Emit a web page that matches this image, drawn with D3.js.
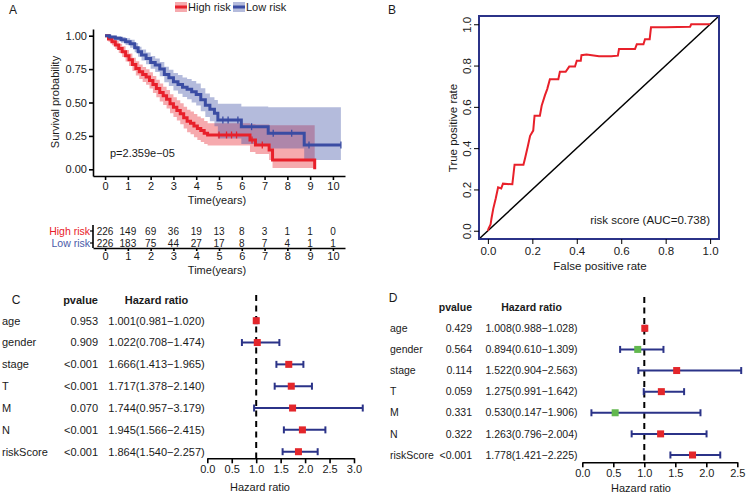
<!DOCTYPE html>
<html>
<head>
<meta charset="utf-8">
<script src="https://cdn.jsdelivr.net/npm/d3@7"></script>
<style>
  body { margin: 0; background: #fff; }
  svg text { fill: #1a1a1a; }
</style>
</head>
<body>
<div id="chart"></div>
<script>
// ---------- data ----------
// panel A: Kaplan-Meier steps (time in years, survival, CI upper, CI lower)
const highTime  = [0, 0.15, 0.3, 0.45, 0.6, 0.75, 0.9, 1.05, 1.2, 1.35, 1.5, 1.65, 1.8, 1.95, 2.1, 2.25, 2.4, 2.55, 2.7, 2.85, 3.0, 3.15, 3.3, 3.45, 3.6, 3.75, 3.9, 4.05, 4.2, 4.35, 4.5, 6.36, 6.6, 7.2, 7.35, 9.2];
const highSurv  = [1, 0.975, 0.955, 0.93, 0.905, 0.88, 0.85, 0.82, 0.785, 0.755, 0.73, 0.71, 0.69, 0.665, 0.635, 0.605, 0.575, 0.55, 0.525, 0.49, 0.465, 0.44, 0.415, 0.385, 0.36, 0.345, 0.325, 0.305, 0.29, 0.27, 0.257, 0.219, 0.182, 0.144, 0.07, 0];
const highUpper = [1, 0.995, 0.985, 0.96, 0.94, 0.92, 0.893, 0.866, 0.835, 0.808, 0.785, 0.766, 0.748, 0.726, 0.698, 0.67, 0.642, 0.618, 0.594, 0.562, 0.54, 0.517, 0.494, 0.468, 0.445, 0.432, 0.414, 0.396, 0.382, 0.362, 0.345, 0.34, 0.335, 0.33, 0.33, 0.33];
const highLower = [1, 0.955, 0.928, 0.9, 0.87, 0.84, 0.807, 0.774, 0.735, 0.702, 0.675, 0.654, 0.632, 0.604, 0.572, 0.54, 0.508, 0.482, 0.456, 0.42, 0.392, 0.365, 0.338, 0.305, 0.278, 0.262, 0.24, 0.22, 0.205, 0.19, 0.178, 0.13, 0.115, 0.07, 0.01, 0.01];
const highEnd = 9.2;
const highCensor = [5.0, 5.33, 5.55, 5.77, 6.45, 6.9];

const lowTime  = [0, 0.2, 0.45, 0.7, 0.9, 1.1, 1.3, 1.45, 1.6, 1.8, 2.0, 2.2, 2.4, 2.6, 2.8, 3.0, 3.2, 3.4, 3.6, 3.8, 4.0, 4.2, 4.4, 4.6, 4.8, 4.95, 5.98, 7.16, 8.74];
const lowSurv  = [1, 0.99, 0.98, 0.97, 0.955, 0.94, 0.91, 0.88, 0.855, 0.83, 0.8, 0.78, 0.75, 0.71, 0.685, 0.655, 0.635, 0.615, 0.6, 0.58, 0.56, 0.52, 0.48, 0.45, 0.42, 0.369, 0.319, 0.27, 0.182];
const lowUpper = [1, 1, 0.995, 0.99, 0.98, 0.97, 0.945, 0.918, 0.896, 0.874, 0.848, 0.83, 0.804, 0.768, 0.746, 0.72, 0.705, 0.688, 0.676, 0.66, 0.643, 0.606, 0.568, 0.54, 0.518, 0.49, 0.47, 0.465, 0.465];
const lowLower = [1, 0.978, 0.963, 0.948, 0.93, 0.91, 0.876, 0.842, 0.814, 0.786, 0.752, 0.728, 0.696, 0.652, 0.624, 0.59, 0.565, 0.542, 0.524, 0.5, 0.477, 0.434, 0.392, 0.36, 0.322, 0.23, 0.19, 0.155, 0.07];
const lowEnd = 10.35;
const lowCensor = [5.17, 5.4, 5.83, 6.43, 7.38, 8.19, 8.95, 10.35];

const kmTicks = [0, 0.25, 0.5, 0.75, 1];
const years = [0, 1, 2, 3, 4, 5, 6, 7, 8, 9, 10];
const highAtRisk = [226, 149, 69, 36, 19, 13, 8, 3, 1, 1, 0];
const lowAtRisk  = [226, 183, 75, 44, 27, 17, 8, 7, 4, 1, 1];
const pText = "p=2.359e\u221205";

// panel B: ROC
const rocFpr = [0, 0.003, 0.012, 0.016, 0.024, 0.035, 0.046, 0.06, 0.068, 0.11, 0.12, 0.16, 0.167, 0.18, 0.19, 0.204, 0.21, 0.234, 0.242, 0.257, 0.267, 0.279, 0.317, 0.324, 0.35, 0.366, 0.392, 0.4, 0.418, 0.421, 0.444, 0.5, 0.555, 0.585, 0.59, 0.662, 0.67, 0.7, 0.707, 0.728, 0.734, 0.8, 0.91, 0.915, 1];
const rocTpr = [0, 0.01, 0.03, 0.058, 0.106, 0.155, 0.21, 0.205, 0.228, 0.225, 0.32, 0.32, 0.35, 0.41, 0.46, 0.485, 0.557, 0.557, 0.605, 0.657, 0.686, 0.734, 0.734, 0.77, 0.77, 0.795, 0.795, 0.823, 0.823, 0.85, 0.853, 0.845, 0.845, 0.848, 0.88, 0.88, 0.903, 0.903, 0.928, 0.928, 0.985, 0.985, 0.988, 1, 1];
const rocTicks = [0, 0.2, 0.4, 0.6, 0.8, 1];
const aucText = "risk score (AUC=0.738)";

// panels C and D: forest plots
const forestVars = ["age", "gender", "stage", "T", "M", "N", "riskScore"];
const uniP    = ["0.953", "0.909", "<0.001", "<0.001", "0.070", "<0.001", "<0.001"];
const uniHR   = [1.001, 1.022, 1.666, 1.717, 1.744, 1.945, 1.864];
const uniLow  = [0.981, 0.708, 1.413, 1.378, 0.957, 1.566, 1.540];
const uniHigh = [1.020, 1.474, 1.965, 2.140, 3.179, 2.415, 2.257];
const multiP    = ["0.429", "0.564", "0.114", "0.059", "0.331", "0.322", "<0.001"];
const multiHR   = [1.008, 0.894, 1.522, 1.275, 0.530, 1.263, 1.778];
const multiLow  = [0.988, 0.610, 0.904, 0.991, 0.147, 0.796, 1.421];
const multiHigh = [1.028, 1.309, 2.563, 1.642, 1.906, 2.004, 2.225];

// ---------- drawing ----------
const FONT = "'Liberation Sans', Arial, Helvetica, sans-serif";
const RED = "#e8202a", BLUE = "#3a4ca3", NAVY = "#2b3388";

const svg = d3.select("#chart").append("svg")
    .attr("width", 747).attr("height", 494)
    .attr("font-family", FONT).attr("font-size", 11);

function styleAxis(g) {
  g.attr("font-family", FONT).attr("font-size", 11);
  g.selectAll("text").attr("fill", "#1a1a1a");
}

function label(x, y, txt, opts = {}) {
  const t = svg.append("text").attr("x", x).attr("y", y).attr("dy", "0.35em")
      .attr("text-anchor", opts.anchor || "middle").text(txt);
  if (opts.size) t.attr("font-size", opts.size);
  if (opts.bold) t.attr("font-weight", "bold");
  if (opts.fill) t.style("fill", opts.fill);
  if (opts.rotate) t.attr("transform", `rotate(-90,${x},${y})`);
  return t;
}

// panel letters
label(13, 10, "A", { size: 12 });
label(392, 10, "B", { size: 12 });
label(16, 300, "C", { size: 12 });
label(393, 298, "D", { size: 12 });

// ===== Panel A: survival curves =====
const kmX = d3.scaleLinear().domain([-0.53, 10.53]).range([93, 345]);
const kmY = d3.scaleLinear().domain([-0.05, 1.05]).range([176, 29]);

function kmPoints(time, surv, upper, lower, end) {
  const pts = time.map((t, i) => ({ t, s: surv[i], u: upper[i], l: lower[i] }));
  const last = pts[pts.length - 1];
  if (end > last.t) pts.push({ t: end, s: last.s, u: last.u, l: last.l });
  return pts;
}
const groups = [
  { pts: kmPoints(highTime, highSurv, highUpper, highLower, highEnd), time: highTime, surv: highSurv, censor: highCensor, color: RED },
  { pts: kmPoints(lowTime, lowSurv, lowUpper, lowLower, lowEnd), time: lowTime, surv: lowSurv, censor: lowCensor, color: BLUE }
];

const band = d3.area().curve(d3.curveStepAfter)
    .x(d => kmX(d.t)).y0(d => kmY(d.l)).y1(d => kmY(d.u));
const step = d3.line().curve(d3.curveStepAfter)
    .x(d => kmX(d.t)).y(d => kmY(d.s));

groups.forEach(g => {
  svg.append("path").attr("d", band(g.pts)).attr("fill", g.color).attr("fill-opacity", 0.38);
});
groups.forEach(g => {
  svg.append("path").attr("d", step(g.pts)).attr("fill", "none")
      .attr("stroke", g.color).attr("stroke-width", 3);
  g.censor.forEach(c => {
    const s = g.surv[d3.bisectRight(g.time, c) - 1];
    svg.append("line").attr("x1", kmX(c)).attr("x2", kmX(c))
        .attr("y1", kmY(s) - 3.5).attr("y2", kmY(s) + 3.5)
        .attr("stroke", g.color).attr("stroke-width", 1.3);
  });
});

svg.append("g").attr("transform", "translate(93,0)")
    .call(d3.axisLeft(kmY).tickValues(kmTicks).tickFormat(d3.format(".2f")).tickSize(4).tickSizeOuter(0).tickPadding(2))
    .call(styleAxis)
    .call(g => g.selectAll("path,line").attr("stroke", "#000").attr("stroke-width", 1.6));
svg.append("g").attr("transform", "translate(0,176)")
    .call(d3.axisBottom(kmX).tickValues(years).tickSize(4).tickSizeOuter(0).tickPadding(2))
    .call(styleAxis)
    .call(g => g.selectAll("path,line").attr("stroke", "#000").attr("stroke-width", 1.6));
label(217, 200, "Time(years)");
label(55, 102, "Survival probability", { rotate: true });
label(110, 153, pText, { anchor: "start" });

// legend
[["High risk", RED, 175], ["Low risk", BLUE, 233]].forEach(([name, col, x0]) => {
  svg.append("rect").attr("x", x0).attr("y", 2).attr("width", 12).attr("height", 10)
      .attr("fill", col).attr("fill-opacity", 0.38);
  svg.append("line").attr("x1", x0).attr("x2", x0 + 12).attr("y1", 7).attr("y2", 7)
      .attr("stroke", col).attr("stroke-width", 3);
  label(x0 + 13, 7, name, { anchor: "start" });
});

// risk table
const riskRows = [{ name: "High risk", vals: highAtRisk, y: 231, color: RED },
                  { name: "Low risk", vals: lowAtRisk, y: 243, color: "#4a5aa8" }];
riskRows.forEach(r => {
  label(90, r.y, r.name, { anchor: "end", fill: r.color, size: 10.5 });
  r.vals.forEach((v, i) => label(kmX(years[i]), r.y, v, { size: 10 }));
  svg.append("line").attr("x1", 90).attr("x2", 93).attr("y1", r.y).attr("y2", r.y)
      .attr("stroke", "#000").attr("stroke-width", 1.2);
});
svg.append("line").attr("x1", 93).attr("x2", 93).attr("y1", 225).attr("y2", 248)
    .attr("stroke", "#000").attr("stroke-width", 1.6);
svg.append("g").attr("transform", "translate(0,248)")
    .call(d3.axisBottom(kmX).tickValues(years).tickSize(3).tickSizeOuter(0).tickPadding(1))
    .call(styleAxis)
    .call(g => g.selectAll("path,line").attr("stroke", "#000").attr("stroke-width", 1.6));
label(217, 270, "Time(years)");

// ===== Panel B: ROC =====
const rocX = d3.scaleLinear().domain([-0.04, 1.04]).range([479, 719]);
const rocY = d3.scaleLinear().domain([-0.04, 1.04]).range([239, 16]);

svg.append("line").attr("x1", rocX(-0.04)).attr("y1", rocY(-0.04))
    .attr("x2", rocX(1.04)).attr("y2", rocY(1.04))
    .attr("stroke", "#000").attr("stroke-width", 1.5);
svg.append("path")
    .attr("d", d3.line().x(d => rocX(d[0])).y(d => rocY(d[1]))(rocFpr.map((f, i) => [f, rocTpr[i]])))
    .attr("fill", "none").attr("stroke", RED).attr("stroke-width", 2);
svg.append("rect").attr("x", 479).attr("y", 16).attr("width", 240).attr("height", 223)
    .attr("fill", "none").attr("stroke", NAVY).attr("stroke-width", 2);

svg.append("g").attr("transform", "translate(0,239)")
    .call(d3.axisBottom(rocX).tickValues(rocTicks).tickFormat(d3.format(".1f")).tickSize(5).tickPadding(3))
    .call(styleAxis)
    .call(g => g.select(".domain").remove())
    .call(g => g.selectAll("line").attr("stroke", "#000"))
    .call(g => g.selectAll("text").attr("font-size", 11.5));
svg.append("g").attr("transform", "translate(479,0)")
    .call(d3.axisLeft(rocY).tickValues(rocTicks).tickFormat(d3.format(".1f")).tickSize(5))
    .call(styleAxis)
    .call(g => g.select(".domain").remove())
    .call(g => g.selectAll("line").attr("stroke", "#000"))
    .call(g => g.selectAll("text").attr("font-size", 11.5)
        .attr("x", 0).attr("y", -8).attr("dy", null)
        .attr("text-anchor", "middle").attr("transform", "rotate(-90)"));
label(600, 266, "False positive rate", { size: 11.5 });
label(453, 128, "True positive rate", { size: 11.5, rotate: true });
label(710, 220, aucText, { anchor: "end", size: 11.5 });

// ===== Panels C, D: forest plots =====
function forest(cfg) {
  const x = d3.scaleLinear().domain(cfg.domain).range(cfg.range);
  const y = d3.scalePoint().domain(forestVars).range(cfg.rows);
  const fs = cfg.fontSize;

  label(cfg.pvalX, cfg.headerY, "pvalue", { anchor: "end", bold: true, size: fs });
  label(cfg.hrX, cfg.headerY, "Hazard ratio", { bold: true, size: fs });
  forestVars.forEach((v, i) => {
    label(cfg.labelX, y(v), v, { anchor: "start", size: fs });
    label(cfg.pvalX, y(v), cfg.p[i], { anchor: "end", size: fs });
    label(cfg.hrX, y(v), `${cfg.hr[i].toFixed(3)}(${cfg.low[i].toFixed(3)}\u2212${cfg.high[i].toFixed(3)})`, { size: fs });
  });

  svg.append("line").attr("x1", x(1)).attr("x2", x(1)).attr("y1", cfg.lineTop).attr("y2", cfg.axisY)
      .attr("stroke", "#000").attr("stroke-width", 2).attr("stroke-dasharray", "6,4.5");

  forestVars.forEach((v, i) => {
    const yy = y(v);
    svg.append("line").attr("x1", x(cfg.low[i])).attr("x2", x(cfg.high[i])).attr("y1", yy).attr("y2", yy)
        .attr("stroke", NAVY).attr("stroke-width", 2);
    [cfg.low[i], cfg.high[i]].forEach(e => {
      svg.append("line").attr("x1", x(e)).attr("x2", x(e)).attr("y1", yy - 3.5).attr("y2", yy + 3.5)
          .attr("stroke", NAVY).attr("stroke-width", 2);
    });
    svg.append("rect").attr("x", x(cfg.hr[i]) - 3.5).attr("y", yy - 3.5).attr("width", 7).attr("height", 7)
        .attr("fill", cfg.hr[i] > 1 ? "#e3262b" : "#62b84e");
  });

  svg.append("g").attr("transform", `translate(0,${cfg.axisY})`)
      .call(d3.axisBottom(x).tickValues(cfg.ticks).tickFormat(d3.format(".1f")).tickSize(5).tickSizeOuter(0).tickPadding(2))
      .call(styleAxis)
      .call(g => g.selectAll("path,line").attr("stroke", "#000").attr("stroke-width", 1.6));
  label(cfg.xlabX, cfg.xlabY, "Hazard ratio");
}

forest({
  p: uniP, hr: uniHR, low: uniLow, high: uniHigh, fontSize: 11,
  domain: [0, 3], range: [207.3, 354], ticks: [0, 0.5, 1, 1.5, 2, 2.5, 3],
  rows: [320.7, 451.7], labelX: 2, pvalX: 98, hrX: 156.5, headerY: 300,
  lineTop: 295, axisY: 458.3, xlabX: 260, xlabY: 487
});
forest({
  p: multiP, hr: multiHR, low: multiLow, high: multiHigh, fontSize: 10.5,
  domain: [0, 2.5], range: [582.3, 737.3], ticks: [0, 0.5, 1, 1.5, 2, 2.5],
  rows: [328.3, 455], labelX: 390, pvalX: 472, hrX: 531.5, headerY: 307,
  lineTop: 297, axisY: 462.3, xlabX: 641, xlabY: 488
});
</script>
</body>
</html>
